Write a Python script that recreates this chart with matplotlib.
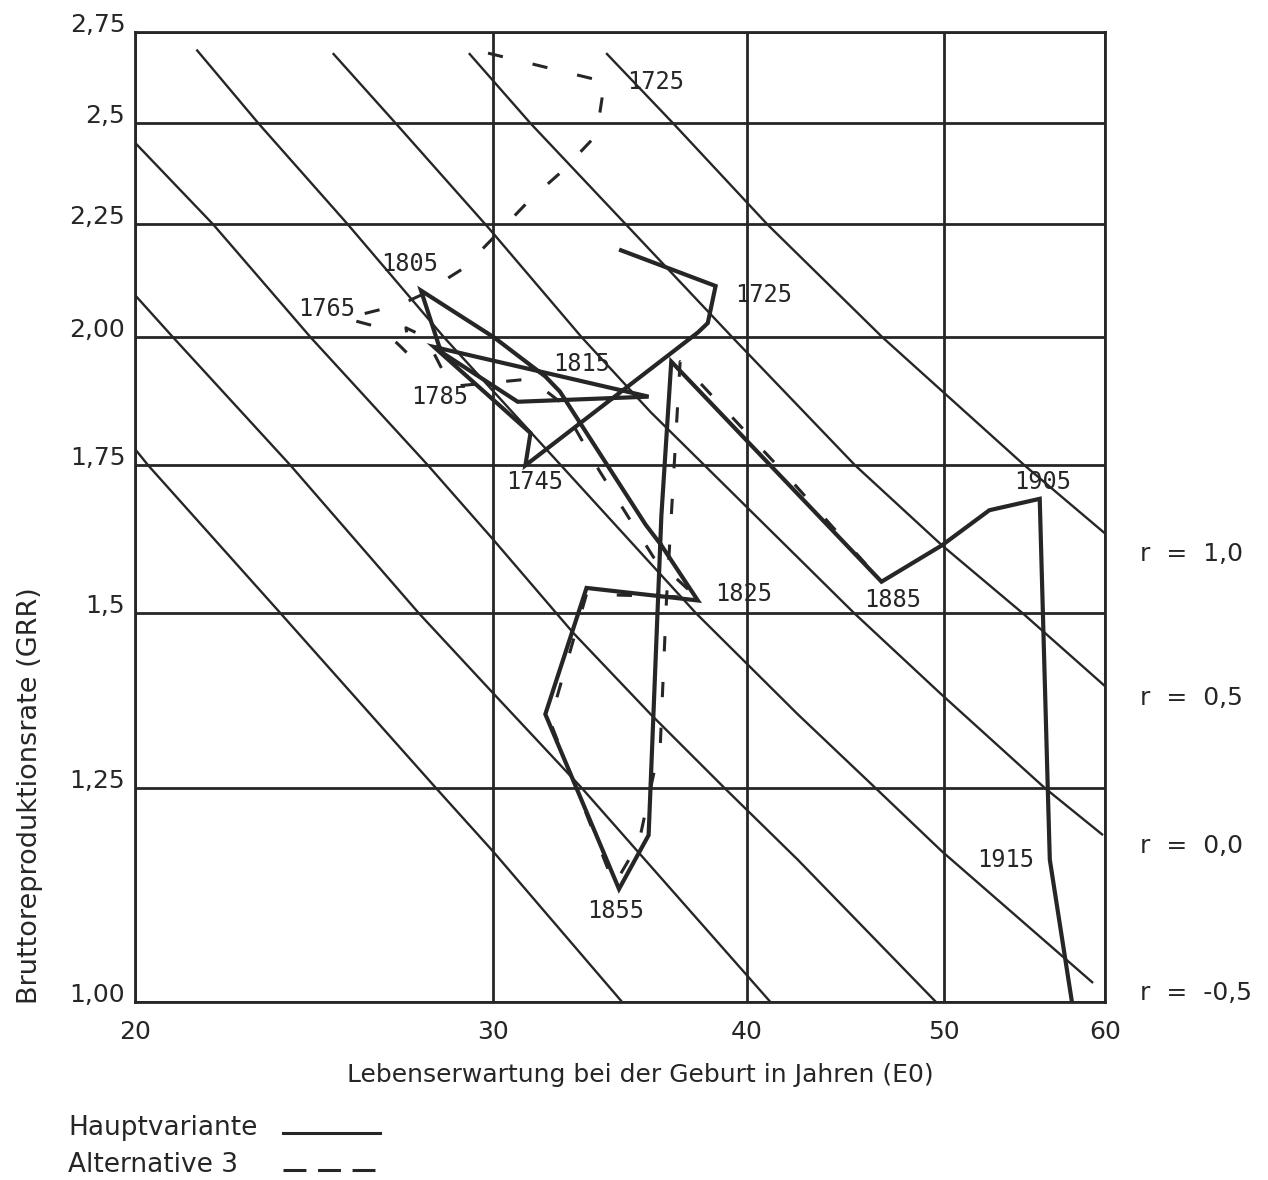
import matplotlib
matplotlib.use("Agg")
import matplotlib.pyplot as plt
from matplotlib.lines import Line2D
from matplotlib.ticker import NullLocator
from matplotlib.transforms import blended_transform_factory

plt.rcParams['font.family'] = ['DejaVu Sans']

INK = '#262626'

# Achsen
x_ticks = [20, 30, 40, 50, 60]
x_tick_labels = ['20', '30', '40', '50', '60']
y_ticks = [1.0, 1.25, 1.5, 1.75, 2.0, 2.25, 2.5, 2.75]
y_tick_labels = ['1,00', '1,25', '1,5', '1,75', '2,00', '2,25', '2,5', '2,75']

r_values = [1.0, 0.5, 0.0, -0.5, -1.0, -1.5, -2.0]
r_label_text = ['r  =  1,0', 'r  =  0,5', 'r  =  0,0', 'r  =  -0,5']
iso_e0 = [
    [34.10, 36.79, 40.93, 46.63, 54.77, 60.0],
    [29.19, 31.30, 34.87, 39.34, 45.21, 49.88, 54.65, 60.0],
    [25.02, 26.87, 29.87, 33.17, 35.86, 45.16, 49.77, 56.04, 59.86],
    [21.44, 23.00, 25.45, 28.38, 32.40, 37.75, 42.36, 46.26, 49.88, 59.19],
    [20.0, 21.85, 24.40, 27.87, 30.0, 32.84, 35.86, 38.99, 42.36, 49.54],
    [20.0, 20.88, 23.85, 27.58, 30.0, 33.17, 41.07],
    [20.0, 20.30, 23.58, 28.12, 30.0, 34.72],
]
iso_grr = [
    [2.69, 2.50, 2.25, 2.00, 1.75, 1.63],
    [2.69, 2.50, 2.25, 2.00, 1.75, 1.61, 1.50, 1.39],
    [2.69, 2.50, 2.24, 2.00, 1.85, 1.50, 1.38, 1.25, 1.19],
    [2.70, 2.50, 2.25, 2.00, 1.75, 1.50, 1.35, 1.25, 1.17, 1.02],
    [2.45, 2.25, 2.00, 1.75, 1.62, 1.47, 1.35, 1.25, 1.16, 1.00],
    [2.09, 2.00, 1.75, 1.50, 1.38, 1.25, 1.00],
    [1.78, 1.75, 1.50, 1.25, 1.17, 1.00],
]
r_label_grr = [1.595, 1.373, 1.177, 1.0095]   # nur r = 1,0 ... -0,5 beschriftet

# Hauptvariante
main_e0 = [34.68, 38.60, 38.26, 37.83, 31.12, 31.30, 28.06, 35.78, 30.85, 28.28,
           27.65, 30.03, 31.83, 32.36, 35.66, 36.30, 37.83, 33.35, 31.83, 34.60,
           35.78, 36.30, 36.71, 46.58, 49.88, 52.63, 55.72, 56.23, 56.36, 57.79]
main_grr = [2.19, 2.11, 2.03, 2.01, 1.75, 1.81, 1.98, 1.88, 1.87, 1.97,
            2.10, 2.00, 1.92, 1.89, 1.645, 1.61, 1.52, 1.54, 1.35, 1.125,
            1.19, 1.66, 1.95, 1.55, 1.61, 1.67, 1.69, 1.25, 1.16, 1.00]

# Alternative 3
alt_e0 = [29.83, 34.10, 33.95, 33.73, 32.47, 31.30, 30.17, 29.03, 27.65, 27.03,
          25.39, 26.42, 27.03, 27.33, 27.18, 27.80, 28.60, 31.30, 32.36, 33.84,
          35.98, 37.78, 33.35, 32.00, 34.41, 35.38, 36.26, 36.51, 37.08, 41.87, 46.58]
alt_grr = [2.69, 2.61, 2.57, 2.47, 2.38, 2.31, 2.23, 2.15, 2.09, 2.07,
           2.04, 2.02, 1.98, 1.96, 2.02, 2.00, 1.90, 1.915, 1.87, 1.74,
           1.59, 1.525, 1.53, 1.34, 1.13, 1.18, 1.31, 1.52, 1.95, 1.73, 1.55]

# Jahresbeschriftungen (linke Kante des Textes)
year_text = ['1725', '1725', '1745', '1765', '1785', '1805', '1815', '1825',
             '1855', '1885', '1905', '1915']
year_e0 = [34.91, 39.47, 30.44, 24.07, 27.33, 26.42, 32.11, 38.60,
           33.39, 45.68, 54.15, 51.92]
year_grr = [2.61, 2.09, 1.72, 2.06, 1.88, 2.16, 1.945, 1.53,
            1.10, 1.52, 1.72, 1.16]

fig = plt.figure(figsize=(12.68, 11.8), dpi=100)
ax = fig.add_axes([0.1065, 0.1509, 0.7650, 0.8220])

ax.set_xscale('log')
ax.set_yscale('log')
ax.set_xlim(20, 60)
ax.set_ylim(1.0, 2.75)
ax.set_xticks(x_ticks, x_tick_labels)
ax.set_yticks(y_ticks, y_tick_labels)
ax.xaxis.set_minor_locator(NullLocator())
ax.yaxis.set_minor_locator(NullLocator())
ax.tick_params(axis='both', length=0, labelsize=18, colors=INK)
ax.tick_params(axis='x', pad=13)
ax.tick_params(axis='y', pad=7)
for lab in ax.get_yticklabels():
    lab.set_verticalalignment('baseline')

ax.grid(True, color=INK, lw=2.0)
ax.set_axisbelow(True)
for sp in ax.spines.values():
    sp.set_color(INK)
    sp.set_linewidth(2.0)

for xs, ys in zip(iso_e0, iso_grr):
    ax.plot(xs, ys, color=INK, lw=1.7, solid_capstyle='butt')

ax.plot(alt_e0, alt_grr, color=INK, lw=2.2, dashes=(5, 10))
ax.plot(main_e0, main_grr, color=INK, lw=3.0, solid_joinstyle='miter')

for t, x, y in zip(year_text, year_e0, year_grr):
    ax.text(x, y, t, fontsize=17, family='DejaVu Sans Mono', color=INK,
            ha='left', va='center')

trans = blended_transform_factory(ax.transAxes, ax.transData)
for s, y in zip(r_label_text, r_label_grr):
    ax.text(1.036, y, s, transform=trans, fontsize=18, color=INK,
            ha='left', va='center', clip_on=False)

fig.text(0.5047, 0.089, 'Lebenserwartung bei der Geburt in Jahren (E0)',
         fontsize=18, color=INK, ha='center', va='center')
fig.text(0.024, 0.326, 'Bruttoreproduktionsrate (GRR)', rotation=90,
         fontsize=19.5, color=INK, ha='center', va='center')

# Legende unter der Achse
fig.text(0.0536, 1 - 1128 / 1180, 'Hauptvariante', fontsize=19, color=INK,
         ha='left', va='center')
fig.text(0.0536, 1 - 1165 / 1180, 'Alternative 3', fontsize=19, color=INK,
         ha='left', va='center')
fig.add_artist(Line2D([283 / 1268, 380 / 1268], [1 - 1133 / 1180] * 2,
                      transform=fig.transFigure, color=INK, lw=2.2))
fig.add_artist(Line2D([283 / 1268, 378 / 1268], [1 - 1170 / 1180] * 2,
                      transform=fig.transFigure, color=INK, lw=2.2,
                      dashes=(7.5, 3.8)))

fig.savefig('out.png', dpi=100, facecolor='white')
